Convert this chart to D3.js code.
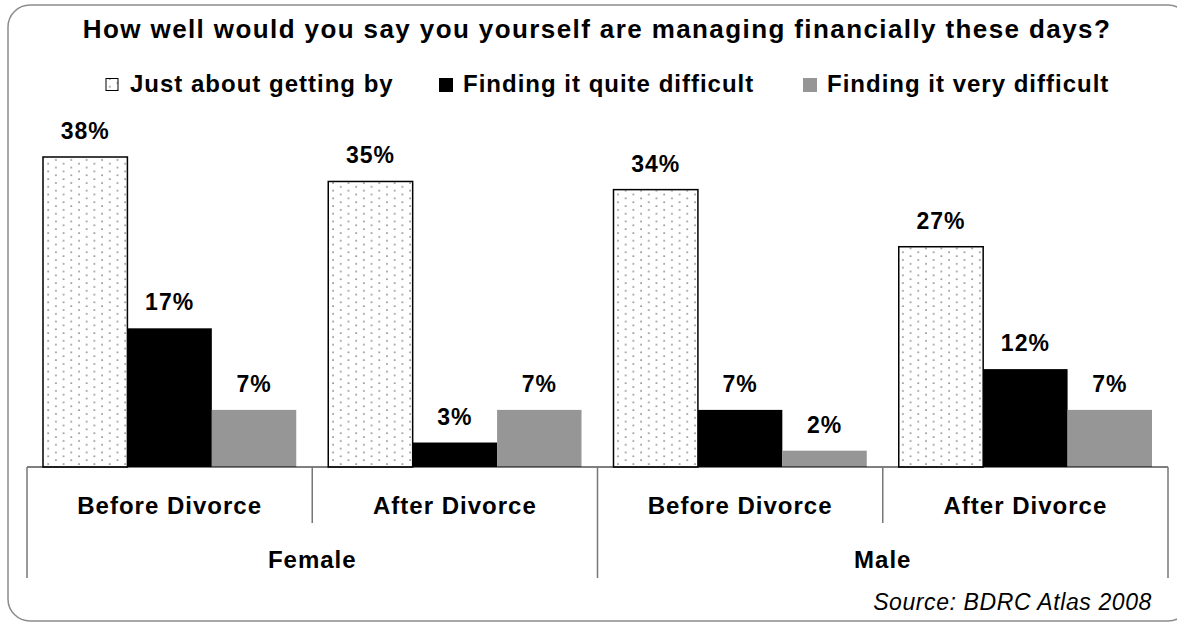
<!DOCTYPE html>
<html>
<head>
<meta charset="utf-8">
<script src="https://cdn.jsdelivr.net/npm/d3@7"></script>
<style>
  body { margin: 0; background: #fff; }
  text { font-family: "Liberation Sans", Arial, sans-serif; }
</style>
</head>
<body>
<div class="canvas"></div>
<script>
// chart data
const categories = ['Before Divorce', 'After Divorce', 'Before Divorce ', 'After Divorce '];
const groups = ['Female', 'Male'];
const series = ['Just about getting by', 'Finding it quite difficult', 'Finding it very difficult'];
const justGettingBy = [38, 35, 34, 27];
const quiteDifficult = [17, 3, 7, 12];
const veryDifficult = [7, 7, 2, 7];

const values = [justGettingBy, quiteDifficult, veryDifficult];

const width = 1177;
const height = 624;

const svg = d3.select('.canvas')
    .append('svg')
    .attr('width', width)
    .attr('height', height);

// dotted fill for the first series
const defs = svg.append('defs');
const pat = defs.append('pattern')
    .attr('id', 'dots')
    .attr('patternUnits', 'userSpaceOnUse')
    .attr('width', 15.4)
    .attr('height', 7.7);
pat.append('rect').attr('width', 15.4).attr('height', 7.7).attr('fill', '#fff');
pat.append('circle').attr('cx', 2).attr('cy', 2).attr('r', 0.9).attr('fill', '#777');
pat.append('circle').attr('cx', 9.7).attr('cy', 5.85).attr('r', 0.9).attr('fill', '#777');

const fills = ['url(#dots)', '#000', '#969696'];

// rounded outer frame
svg.append('rect')
    .attr('x', 8)
    .attr('y', 5)
    .attr('width', 1182)
    .attr('height', 616)
    .attr('rx', 22)
    .attr('fill', 'none')
    .attr('stroke', '#8c8c8c')
    .attr('stroke-width', 1.5);

// title
svg.append('text')
    .attr('x', 597)
    .attr('y', 38)
    .attr('text-anchor', 'middle')
    .attr('font-size', 26)
    .attr('font-weight', 'bold')
    .attr('letter-spacing', 1.4)
    .text('How well would you say you yourself are managing financially these days?');

// legend
const legendX = [106, 439, 803];
const legend = svg.append('g');
series.forEach((s, i) => {
    legend.append('rect')
        .attr('x', legendX[i])
        .attr('y', i === 0 ? 78.5 : 78)
        .attr('width', i === 0 ? 12 : 14)
        .attr('height', i === 0 ? 12 : 14)
        .attr('fill', fills[i])
        .attr('stroke', i === 0 ? '#000' : 'none')
        .attr('stroke-width', 1);
    legend.append('text')
        .attr('x', legendX[i] + 24)
        .attr('y', 92)
        .attr('font-size', 24)
        .attr('font-weight', 'bold')
        .attr('letter-spacing', 1)
        .text(s);
});

// scales
const x0 = d3.scaleBand()
    .domain(categories)
    .range([27, 1168]);

const x1 = d3.scaleBand()
    .domain(series)
    .range([16, x0.bandwidth() - 16]);

const y = d3.scaleLinear()
    .domain([0, 38])
    .range([467, 157]);

const graph = svg.append('g');

// bars
values.forEach((vals, si) => {
    graph.selectAll('.bar' + si)
        .data(vals)
        .enter()
        .append('rect')
        .attr('class', 'bar' + si)
        .attr('x', (d, i) => x0(categories[i]) + x1(series[si]))
        .attr('y', d => y(d))
        .attr('width', x1.bandwidth())
        .attr('height', d => y(0) - y(d))
        .attr('fill', fills[si])
        .attr('stroke', si === 0 ? '#000' : 'none')
        .attr('stroke-width', 1.5);

    graph.selectAll('.lab' + si)
        .data(vals)
        .enter()
        .append('text')
        .attr('class', 'lab' + si)
        .attr('x', (d, i) => x0(categories[i]) + x1(series[si]) + x1.bandwidth() / 2)
        .attr('y', d => y(d) - 18)
        .attr('text-anchor', 'middle')
        .attr('font-size', 23)
        .attr('font-weight', 'bold')
        .attr('letter-spacing', 1)
        .text(d => d + '%');
});

// category axis
graph.append('line')
    .attr('x1', 27).attr('x2', 1168)
    .attr('y1', y(0)).attr('y2', y(0))
    .attr('stroke', '#000')
    .attr('stroke-width', 1.2);

// dividers between categories, taller between groups
const edges = categories.map(c => x0(c)).concat([x0.range()[1]]);
edges.forEach((e, i) => {
    graph.append('line')
        .attr('x1', e).attr('x2', e)
        .attr('y1', y(0)).attr('y2', i % 2 === 0 ? 578 : 523)
        .attr('stroke', '#777')
        .attr('stroke-width', 1.5);
});

graph.selectAll('.cat')
    .data(categories)
    .enter()
    .append('text')
    .attr('class', 'cat')
    .attr('x', d => x0(d) + x0.bandwidth() / 2)
    .attr('y', 514)
    .attr('text-anchor', 'middle')
    .attr('font-size', 24)
    .attr('font-weight', 'bold')
    .attr('letter-spacing', 1)
    .text(d => d.trim());

graph.selectAll('.grp')
    .data(groups)
    .enter()
    .append('text')
    .attr('class', 'grp')
    .attr('x', (d, i) => x0(categories[i * 2]) + x0.bandwidth())
    .attr('y', 568)
    .attr('text-anchor', 'middle')
    .attr('font-size', 24)
    .attr('font-weight', 'bold')
    .attr('letter-spacing', 1)
    .text(d => d);

// source note
svg.append('text')
    .attr('x', 1152)
    .attr('y', 610)
    .attr('text-anchor', 'end')
    .attr('font-size', 23)
    .attr('font-style', 'italic')
    .attr('letter-spacing', 0.6)
    .text('Source: BDRC Atlas 2008');
</script>
</body>
</html>
